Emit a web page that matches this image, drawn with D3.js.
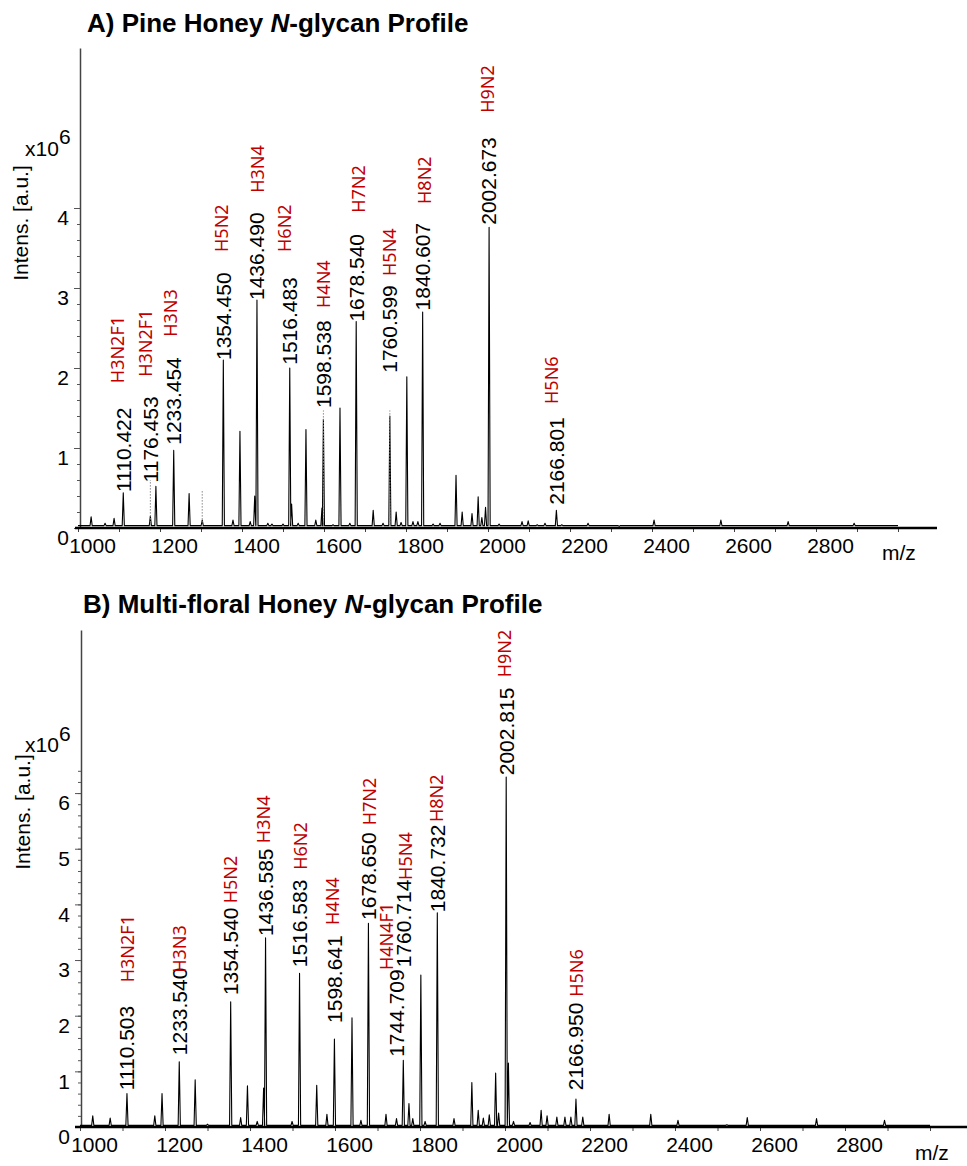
<!DOCTYPE html>
<html lang="en">
<head>
<meta charset="UTF-8">
<title>Honey N-glycan Profiles</title>
<script src="https://d3js.org/d3.v7.min.js"></script>
<style>
    body { margin: 0; background: #fff; }
    svg { display: block; font-family: "Liberation Sans", Arial, sans-serif; }
    .num { font-size: 21px; fill: #000; }
    .gly { font-family: "Noto Sans", sans-serif; font-size: 18px; fill: #c00000; }
    .tick text { font-size: 21px; fill: #000; font-family: "Liberation Sans", Arial, sans-serif; }
</style>
</head>
<body>
<svg width="967" height="1166"></svg>
<script>
    // ---- Panel A: Pine honey ----
    const peaksA_mz = [1032, 1066, 1088, 1110.42, 1176.45, 1190, 1233.45, 1271, 1303, 1354.45, 1378, 1395, 1420, 1431,
        1436.49, 1463, 1473, 1500, 1516.48, 1521, 1537, 1556, 1580, 1595, 1598.54, 1622, 1639, 1663, 1678.54, 1720, 1744,
        1760.6, 1776, 1788, 1802, 1817, 1829, 1840.61, 1866, 1883, 1922, 1937, 1961, 1976, 1985, 1994, 2002.67, 2027,
        2083, 2098, 2120, 2139, 2166.8, 2180, 2244, 2320, 2405, 2568, 2732, 2893];
    const peaksA_int = [0.14, 0.06, 0.12, 0.44, 0.15, 0.52, 0.97, 0.43, 0.1, 2.1, 0.1, 1.21, 0.08, 0.4,
        2.85, 0.06, 0.05, 0.05, 2.0, 0.3, 0.06, 1.23, 0.1, 0.25, 1.36, 0.04, 1.5, 0.06, 2.58, 0.22, 0.06,
        1.4, 0.2, 0.07, 1.89, 0.08, 0.08, 2.7, 0.05, 0.06, 0.66, 0.2, 0.18, 0.39, 0.13, 0.26, 3.76, 0.05,
        0.08, 0.09, 0.04, 0.06, 0.22, 0.04, 0.06, 0.02, 0.1, 0.1, 0.08, 0.06];
    const dottedA_mz = [1176.45, 1303, 1598.54, 1760.6];
    const dottedA_top = [0.6, 0.48, 1.47, 1.47];

    const labelsA_mz = [1110.422, 1176.453, 1233.454, 1354.450, 1436.490, 1516.483, 1598.538, 1678.540, 1760.599, 1840.607, 2002.673, 2166.801];
    const labelsA_text = ["1110.422", "1176.453", "1233.454", "1354.450", "1436.490", "1516.483", "1598.538", "1678.540", "1760.599", "1840.607", "2002.673", "2166.801"];
    const labelsA_at = [0.45, 0.57, 1.04, 2.1, 2.85, 2.04, 1.5, 2.58, 1.94, 2.72, 3.79, 0.29];

    const glycA_mz = [1096, 1164, 1226, 1349, 1437, 1503, 1600, 1685, 1759, 1846, 1998, 2156];
    const glycA_name = ["H3N2F1", "H3N2F1", "H3N3", "H5N2", "H3N4", "H6N2", "H4N4", "H7N2", "H5N4", "H8N2", "H9N2", "H5N6"];
    const glycA_at = [1.81, 1.89, 2.39, 3.45, 4.19, 3.45, 2.75, 3.94, 3.15, 4.05, 5.19, 1.55];

    // ---- Panel B: Multi-floral honey ----
    const peaksB_mz = [1030, 1071, 1110.5, 1176, 1193, 1233.54, 1271, 1300, 1354.54, 1378, 1394, 1417, 1432, 1436.59,
        1499, 1516.58, 1557, 1581, 1598.64, 1640, 1661, 1678.65, 1720, 1744.7, 1760.71, 1774, 1783, 1802, 1812, 1840.73,
        1880, 1922, 1937, 1949, 1963, 1978, 1985, 2002.82, 2008, 2020, 2059, 2085, 2099, 2122, 2141, 2155, 2166.95,
        2183, 2245, 2343, 2407, 2522, 2570, 2733, 2893];
    const peaksB_int = [0.2, 0.16, 0.6, 0.2, 0.6, 1.17, 0.85, 0.05, 2.25, 0.17, 0.74, 0.1, 0.7, 3.4,
        0.1, 2.76, 0.75, 0.23, 1.58, 1.96, 0.12, 3.66, 0.23, 0.15, 1.2, 0.42, 0.15, 2.73, 0.1, 3.85,
        0.15, 0.8, 0.3, 0.16, 0.22, 0.97, 0.25, 6.29, 1.15, 0.1, 0.08, 0.3, 0.2, 0.18, 0.18, 0.18, 0.5,
        0.18, 0.23, 0.23, 0.12, 0.04, 0.17, 0.15, 0.12];

    const labelsB_mz = [1110.503, 1233.540, 1354.540, 1436.585, 1516.583, 1598.641, 1678.650, 1744.709, 1760.714, 1840.732, 2002.815, 2166.950];
    const labelsB_text = ["1110.503", "1233.540", "1354.540", "1436.585", "1516.583", "1598.641", "1678.650", "1744.709", "1760.714", "1840.732", "2002.815", "2166.950"];
    const labelsB_at = [0.66, 1.29, 2.37, 3.43, 2.87, 1.87, 3.72, 1.26, 2.87, 3.86, 6.32, 0.66];

    const glycB_mz = [1111, 1233, 1353, 1431, 1518, 1595, 1682, 1722, 1765, 1840, 2000, 2169];
    const glycB_name = ["H3N2F1", "H3N3", "H5N2", "H3N4", "H6N2", "H4N4", "H7N2", "H4N4F1", "H5N4", "H8N2", "H9N2", "H5N6"];
    const glycB_at = [2.6, 2.77, 4.02, 5.1, 4.62, 3.63, 5.42, 2.82, 4.44, 5.48, 8.08, 2.34];

    const xTicks = d3.range(1000, 3001, 100);
    const xTickLabels = [1000, 1200, 1400, 1600, 1800, 2000, 2200, 2400, 2600, 2800];
    const yTicksA = [0, 1, 2, 3, 4];
    const yTicksB = [0, 1, 2, 3, 4, 5, 6];

    const svg = d3.select("svg");

    function drawPanel(p) {
        const g = svg.append("g");
        const x = p.x, y = p.y;
        const base = 0.03;

        // 标题
        const t = g.append("text").attr("x", p.titleX).attr("y", p.titleY)
            .attr("font-size", 26).attr("font-weight", "bold");
        t.append("tspan").text(p.titlePre);
        t.append("tspan").attr("font-style", "italic").text("N");
        t.append("tspan").text("-glycan Profile");

        // y 轴 (minor + major)
        const minorVals = d3.range(0, p.yMinorMax + 0.001, 0.2);
        g.append("g").attr("transform", `translate(${x.range()[0] + p.yAxisDx},0)`)
            .call(d3.axisLeft(y).tickValues(minorVals).tickSize(3).tickSizeOuter(0).tickFormat(""))
            .call(s => s.select(".domain").attr("stroke", "#444").attr("stroke-width", 1.5))
            .call(s => s.selectAll(".tick line").attr("stroke", "#555"));
        g.append("g").attr("transform", `translate(${x.range()[0] + p.yAxisDx},0)`)
            .call(d3.axisLeft(y).tickValues(p.yTicks).tickSize(6).tickPadding(5).tickFormat(d3.format("d")))
            .call(s => s.select(".domain").remove())
            .call(s => s.selectAll(".tick line").attr("stroke", "#555"))
            .call(s => s.selectAll(".tick text").attr("y", 10));

        // x 轴
        const xa = g.append("g").attr("transform", `translate(0,${y(0)})`)
            .call(d3.axisBottom(x).tickValues(xTicks).tickSize(4).tickSizeOuter(0)
                .tickFormat(d => xTickLabels.includes(d) ? d : ""));
        xa.select(".domain").remove();
        xa.selectAll(".tick line").attr("stroke", "#444");
        xa.selectAll(".tick text").attr("dy", null).attr("y", 25).attr("x", 14);
        g.append("line").attr("x1", p.xAxisFrom).attr("x2", p.xAxisTo)
            .attr("y1", y(0)).attr("y2", y(0)).attr("stroke", "#000").attr("stroke-width", 2.4);
        g.append("text").attr("x", p.mzX).attr("y", p.mzY).attr("font-size", 21).text("m/z");

        // y 轴标题
        g.append("text").attr("transform", `translate(${p.ytX},${p.ytY}) rotate(-90)`)
            .attr("text-anchor", "middle").attr("font-size", 21).text("Intens. [a.u.]");
        const ex = g.append("text").attr("x", 25).attr("y", p.expY).attr("font-size", 21);
        ex.append("tspan").text("x10");
        ex.append("tspan").attr("x", p.sixX).attr("dy", -p.sixDy).text("6");

        // 谱线
        const pts = [[1000, base]];
        const idx = d3.range(p.mz.length).sort((a, b) => p.mz[a] - p.mz[b]);
        idx.forEach(i => {
            pts.push([p.mz[i] - 2.6, base], [p.mz[i], p.int[i]], [p.mz[i] + 2.6, base]);
        });
        pts.push([3000, base]);
        g.append("path").datum(pts)
            .attr("d", d3.line().x(d => x(d[0])).y(d => y(d[1])))
            .attr("fill", "none").attr("stroke", "#000").attr("stroke-width", 1.1)
            .attr("stroke-linejoin", "round");

        // 虚线标记
        (p.dotMz || []).forEach((m, i) => {
            g.append("line").attr("x1", x(m)).attr("x2", x(m))
                .attr("y1", y(base)).attr("y2", y(p.dotTop[i]))
                .attr("stroke", "#888").attr("stroke-width", 1).attr("stroke-dasharray", "1.5,1.5");
        });

        // 峰值标签
        p.lMz.forEach((m, i) => {
            g.append("text").attr("class", "num")
                .attr("transform", `translate(${x(m)},${y(p.lAt[i])}) rotate(-90)`)
                .attr("dy", "0.35em").text(p.lText[i]);
        });

        // 糖型标签
        p.gMz.forEach((m, i) => {
            g.append("text").attr("class", "gly")
                .attr("transform", `translate(${x(m)},${y(p.gAt[i])}) rotate(-90)`)
                .attr("dy", "0.36em").text(p.gName[i]);
        });
    }

    drawPanel({
        x: d3.scaleLinear().domain([1000, 3000]).range([78, 898]),
        y: d3.scaleLinear().domain([0, 6]).range([528, 48]),
        yAxisDx: 2, yMinorMax: 4, yTicks: yTicksA,
        titlePre: "A) Pine Honey ", titleX: 87, titleY: 32,
        xAxisFrom: 75, xAxisTo: 937, mzX: 882, mzY: 560,
        ytX: 28, ytY: 223, expY: 156, sixX: 59, sixDy: 12,
        mz: peaksA_mz, int: peaksA_int, dotMz: dottedA_mz, dotTop: dottedA_top,
        lMz: labelsA_mz, lText: labelsA_text, lAt: labelsA_at,
        gMz: glycA_mz, gName: glycA_name, gAt: glycA_at
    });

    drawPanel({
        x: d3.scaleLinear().domain([1000, 3000]).range([80, 930]),
        y: d3.scaleLinear().domain([0, 8.93]).range([1127, 630]),
        yAxisDx: 1, yMinorMax: 6.4, yTicks: yTicksB,
        titlePre: "B) Multi-floral Honey ", titleX: 83, titleY: 613,
        xAxisFrom: 75, xAxisTo: 967, mzX: 915, mzY: 1160,
        ytX: 30, ytY: 812, expY: 752, sixX: 59, sixDy: 11,
        mz: peaksB_mz, int: peaksB_int,
        lMz: labelsB_mz, lText: labelsB_text, lAt: labelsB_at,
        gMz: glycB_mz, gName: glycB_name, gAt: glycB_at
    });
</script>
</body>
</html>
